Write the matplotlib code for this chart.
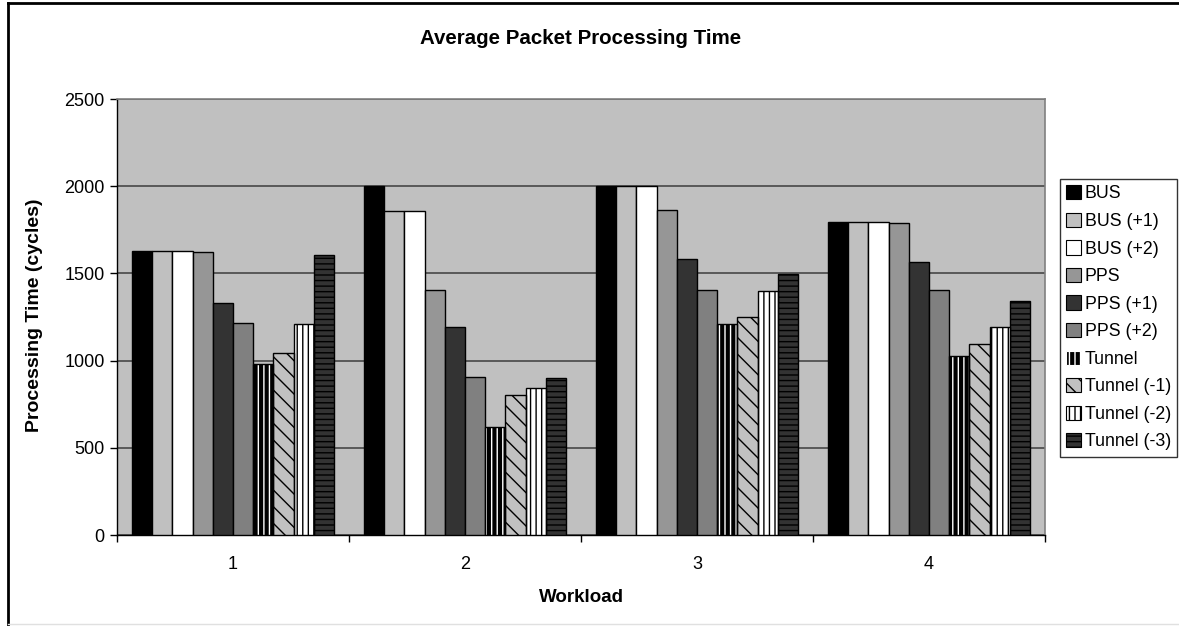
import matplotlib
matplotlib.use("Agg")
import matplotlib.pyplot as plt
from matplotlib.patches import Patch
from matplotlib.lines import Line2D
import numpy as np

plt.rcParams['font.family'] = ['Liberation Sans', 'DejaVu Sans']
plt.rcParams['hatch.linewidth'] = 1.0

workloads = ["1", "2", "3", "4"]
series_names = ["BUS", "BUS (+1)", "BUS (+2)", "PPS", "PPS (+1)", "PPS (+2)",
                "Tunnel", "Tunnel (-1)", "Tunnel (-2)", "Tunnel (-3)"]

bus = [1626, 2000, 2000, 1793]
bus_p1 = [1626, 1856, 2000, 1793]
bus_p2 = [1626, 1856, 2000, 1793]
pps = [1620, 1407, 1861, 1787]
pps_p1 = [1330, 1193, 1580, 1565]
pps_p2 = [1216, 906, 1407, 1407]
tunnel = [980, 619, 1212, 1024]
tunnel_m1 = [1044, 803, 1250, 1093]
tunnel_m2 = [1210, 843, 1399, 1193]
tunnel_m3 = [1607, 898, 1497, 1342]

series_values = [bus, bus_p1, bus_p2, pps, pps_p1, pps_p2,
                 tunnel, tunnel_m1, tunnel_m2, tunnel_m3]

# (face colour, hatch colour, hatch pattern)
styles = [
    ("#000000", None, None),
    ("#C0C0C0", None, None),
    ("#FFFFFF", None, None),
    ("#969696", None, None),
    ("#333333", None, None),
    ("#808080", None, None),
    ("#000000", "#FFFFFF", "|||"),
    ("#C0C0C0", "#000000", "\\\\"),
    ("#FFFFFF", "#000000", "|||"),
    ("#333333", "#000000", "---"),
]

W, H = 1179, 626
fig = plt.figure(figsize=(W / 100, H / 100), dpi=100)
fig.patch.set_facecolor("white")

ax = fig.add_axes([117 / W, 1 - 535 / H, (1045 - 117) / W, (535 - 99) / H])
ax.set_facecolor("#C0C0C0")

n = len(series_names)
gap = 1.5
bw = 1.0 / (n + gap)
x = np.arange(1, len(workloads) + 1)

for i, (vals, (fc, hc, hatch)) in enumerate(zip(series_values, styles)):
    pos = x - 0.5 + bw * (gap / 2 + i + 0.5)
    if hatch:
        ax.bar(pos, vals, width=bw, color=fc, edgecolor=hc, hatch=hatch,
               linewidth=0, zorder=3)
        ax.bar(pos, vals, width=bw, facecolor="none", edgecolor="black",
               linewidth=1.0, zorder=4)
    else:
        ax.bar(pos, vals, width=bw, color=fc, edgecolor="black",
               linewidth=1.0, zorder=3)

ax.set_xlim(0.5, len(workloads) + 0.5)
ax.set_ylim(0, 2500)
ax.set_yticks(np.arange(0, 2501, 500))
ax.yaxis.grid(True, color="#474747", linewidth=1.2, zorder=1)
ax.set_axisbelow(True)

ax.set_xticks(x)
ax.set_xticklabels(workloads)
ax.set_xticks(np.arange(0.5, len(workloads) + 0.51, 1), minor=True)
ax.tick_params(axis="x", which="major", length=0, pad=15, labelsize=13)
ax.tick_params(axis="x", which="minor", length=5, width=1, direction="out")
ax.tick_params(axis="y", length=5, width=1, direction="out", pad=4, labelsize=13)

for side in ("top", "right"):
    ax.spines[side].set_color("#808080")
    ax.spines[side].set_linewidth(1.2)
for side in ("left", "bottom"):
    ax.spines[side].set_color("black")
    ax.spines[side].set_linewidth(1.0)

fig.text(581 / W, 1 - 38 / H, "Average Packet Processing Time",
         ha="center", va="center", fontsize=14.8, fontweight="bold")
fig.text(581 / W, 1 - 597 / H, "Workload", ha="center", va="center",
         fontsize=13.5, fontweight="bold")
fig.text(35 / W, 1 - 315 / H, "Processing Time (cycles)", ha="center",
         va="center", rotation=90, fontsize=14, fontweight="bold")

handles = []
for name, (fc, hc, hatch) in zip(series_names, styles):
    if hatch:
        handles.append(Patch(facecolor=fc, edgecolor=hc, hatch=hatch,
                             linewidth=0.8, label=name))
    else:
        handles.append(Patch(facecolor=fc, edgecolor="black", linewidth=0.8,
                             label=name))

leg = fig.legend(handles=handles, loc="upper left",
                 bbox_to_anchor=(1060 / W, 1 - 179 / H),
                 frameon=True, fancybox=False, fontsize=12.8,
                 handlelength=0.85, handleheight=0.85, handletextpad=0.2,
                 labelspacing=0.58, borderpad=0.35, borderaxespad=0)
leg.get_frame().set_edgecolor("black")
leg.get_frame().set_linewidth(1.0)

# outer chart frame
fig.add_artist(Line2D([8 / W, 8 / W], [0, 1 - 3 / H], transform=fig.transFigure,
                      color="black", linewidth=2))
fig.add_artist(Line2D([8 / W, 1], [1 - 3 / H, 1 - 3 / H], transform=fig.transFigure,
                      color="black", linewidth=2))
fig.add_artist(Line2D([8 / W, 1], [1 - 624 / H, 1 - 624 / H], transform=fig.transFigure,
                      color="#E0E0E0", linewidth=1))

fig.savefig("out.png", dpi=100)
